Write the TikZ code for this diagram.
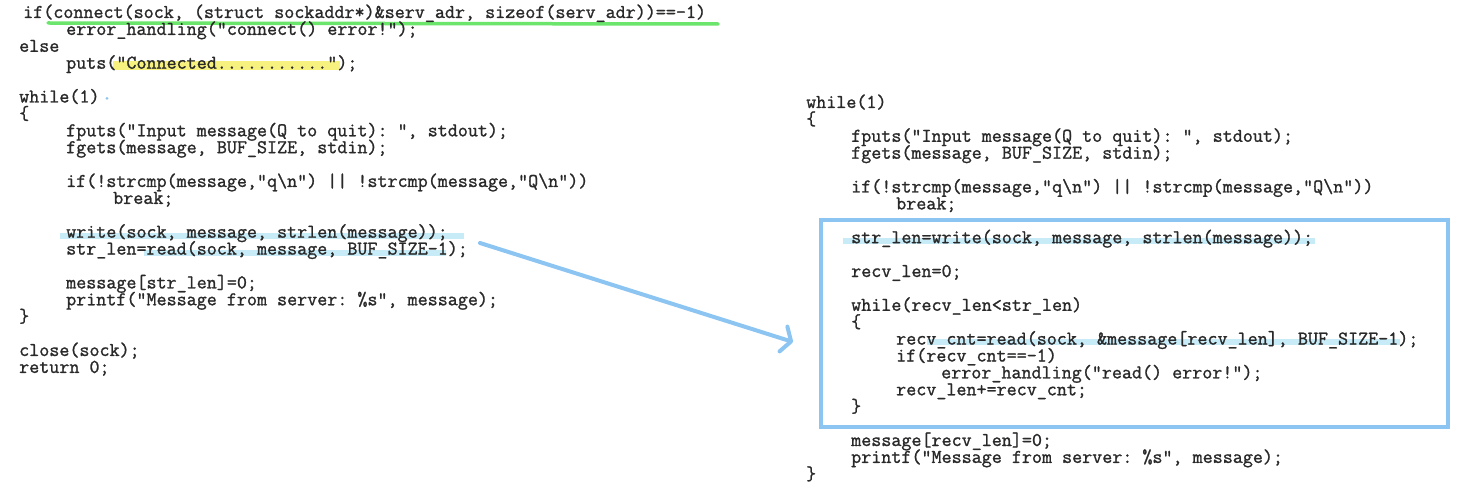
\documentclass[tikz,border=0pt]{standalone}
\usepackage{xcolor}
\usepackage{tikz}
\usetikzlibrary{positioning,backgrounds,arrows.meta}
\font\codemono="[lmmono12-regular]:embolden=1.2" at 19.5pt
\DeclareRobustCommand\codefont{\codemono}
\DeclareRobustCommand\codespaces{\spaceskip=\fontcharwd\font`x\xspaceskip=\fontcharwd\font`x\relax}
\tikzset{code/.style={rectangle, inner sep=0pt, text width=720pt, align=left, text height=12pt, text depth=4pt, font=\codefont, execute at begin node=\codespaces, text=c_text},
hl-cyan/.style={line width=6pt, c_cyan},
hl-yellow/.style={line width=9pt, c_yellow},
hl-green/.style={line width=3.5pt, c_green, line cap=round},
hl-box/.style={line width=4pt, c_blue},
arrow/.style={line width=4pt, c_blue, line cap=round, -{Straight Barb[length=8pt, width=26pt, round]}}}
\definecolor{c_text}{rgb}{0.16, 0.16, 0.16}
\definecolor{c_green}{rgb}{0.42, 0.9, 0.42}
\definecolor{c_yellow}{rgb}{0.97, 0.95, 0.5}
\definecolor{c_cyan}{rgb}{0.78, 0.92, 0.97}
\definecolor{c_blue}{rgb}{0.55, 0.77, 0.95}

\begin{document}
\begin{tikzpicture}[x=1pt, y=1pt, node distance = 16.9pt]
\useasboundingbox (0,0) rectangle (1460,-489);
% left listing
\node (l0) [code, anchor=west] at (23,-14) {if(connect(sock, (struct sockaddr*)\&serv\_adr, sizeof(serv\_adr))==-1)};
\node (l1) [code, below of=l0, xshift=43pt] {error\_handling("connect() error!");};
\node (l2) [code, below of=l1, xshift=-47pt] {else};
\node (l3) [code, below of=l2, xshift=47pt] {puts("Connected...........");};
\node (l5) [code, below of=l3, xshift=-47pt, yshift=-16.9pt] {while(1)};
\node (l6) [code, below of=l5] {\{};
\node (l7) [code, below of=l6, xshift=47pt] {fputs("Input message(Q to quit): ", stdout);};
\node (l8) [code, below of=l7] {fgets(message, BUF\_SIZE, stdin);};
\node (l10) [code, below of=l8, yshift=-16.9pt] {if(!strcmp(message,"q\textbackslash n") || !strcmp(message,"Q\textbackslash n"))};
\node (l11) [code, below of=l10, xshift=47pt] {break;};
\node (l13) [code, below of=l11, xshift=-47pt, yshift=-16.9pt] {write(sock, message, strlen(message));};
\node (l14) [code, below of=l13] {str\_len=read(sock, message, BUF\_SIZE-1);};
\node (l16) [code, below of=l14, yshift=-16.9pt] {message[str\_len]=0;};
\node (l17) [code, below of=l16] {printf("Message from server: \%s", message);};
\node (l18) [code, below of=l17, xshift=-47pt] {\}};
\node (l20) [code, below of=l18, yshift=-16.9pt] {close(sock);};
\node (l21) [code, below of=l20] {return 0;};
% right listing
\node (r0) [code, anchor=west] at (806,-104) {while(1)};
\node (r1) [code, below of=r0] {\{};
\node (r2) [code, below of=r1, xshift=45pt] {fputs("Input message(Q to quit): ", stdout);};
\node (r3) [code, below of=r2] {fgets(message, BUF\_SIZE, stdin);};
\node (r5) [code, below of=r3, yshift=-16.9pt] {if(!strcmp(message,"q\textbackslash n") || !strcmp(message,"Q\textbackslash n"))};
\node (r6) [code, below of=r5, xshift=45pt] {break;};
\node (r8) [code, below of=r6, xshift=-45pt, yshift=-16.9pt] {str\_len=write(sock, message, strlen(message));};
\node (r10) [code, below of=r8, yshift=-16.9pt] {recv\_len=0;};
\node (r12) [code, below of=r10, yshift=-16.9pt] {while(recv\_len<str\_len)};
\node (r13) [code, below of=r12] {\{};
\node (r14) [code, below of=r13, xshift=45pt] {recv\_cnt=read(sock, \&message[recv\_len], BUF\_SIZE-1);};
\node (r15) [code, below of=r14] {if(recv\_cnt==-1)};
\node (r16) [code, below of=r15, xshift=45pt] {error\_handling("read() error!");};
\node (r17) [code, below of=r16, xshift=-45pt] {recv\_len+=recv\_cnt;};
\node (r18) [code, below of=r17, xshift=-45pt] {\}};
\node (r20) [code, below of=r18, yshift=-16.9pt] {message[recv\_len]=0;};
\node (r21) [code, below of=r20] {printf("Message from server: \%s", message);};
\node (r22) [code, below of=r21, xshift=-45pt] {\}};
% box and arrow
\coordinate (box-nw) at (821,-220);
\coordinate (box-se) at (1448,-427);
\draw [hl-box] (box-nw) rectangle (box-se);
\coordinate (a-start) at (480,-243);
\coordinate (a-end) at (793,-342);
\draw [arrow] (a-start) -- (a-end);
\fill [c_blue] ([xshift=88pt]l5.west) circle (1.5pt);
% marker strokes behind the text
\begin{scope}[on background layer]
\fill [white] (0,0) rectangle (1460,-489);
\draw [hl-green] ([xshift=25pt, yshift=-9pt]l0.west) -- ++(670,-1);
\draw [hl-yellow] ([xshift=47pt, yshift=-1pt]l3.west) -- ++(227,0);
\draw [hl-cyan] ([xshift=-6pt, yshift=-2pt]l13.west) -- ++(404,0);
\draw [hl-cyan] ([xshift=78pt, yshift=-2pt]l14.west) -- ++(302,0);
\draw [hl-cyan] ([xshift=-8pt, yshift=-2pt]r8.west) -- ++(472,0);
\draw [hl-cyan] ([xshift=31pt, yshift=-1pt]r14.west) -- ++(473,0);
\end{scope}
\end{tikzpicture}
\end{document}
